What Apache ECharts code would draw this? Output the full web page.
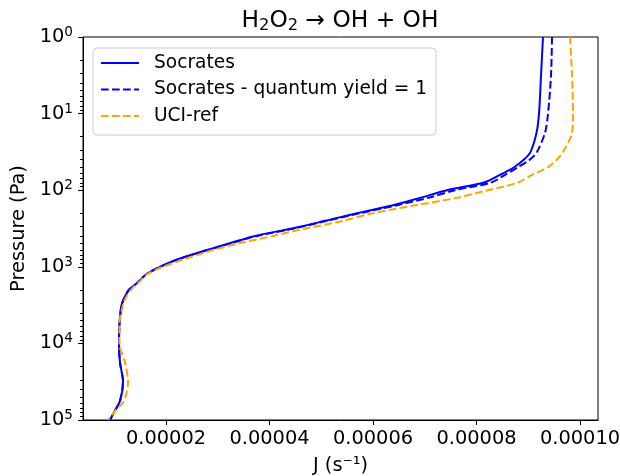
<!DOCTYPE html>
<html>
<head>
<meta charset="utf-8">
<script src="https://cdn.jsdelivr.net/npm/echarts@6/dist/echarts.min.js"></script>
<style>
  html, body { margin: 0; padding: 0; background: #fff; }
  #chart { width: 620px; height: 476px; }
</style>
</head>
<body>
<div id="chart"></div>
<script>
// pressure levels (Pa)
const pressure = [1, 3.162, 10, 17.78, 31.62, 39.81, 50.12, 63.10, 79.43, 100,
  125.9, 158.5, 199.5, 251.2, 316.2, 398.1, 501.2, 631.0, 794.3, 1000,
  1259, 1585, 1995, 2512, 3162, 5623, 10000, 17783, 31623, 56234, 79433, 100000];

// J (s^-1)
const socrates = [9.285e-5, 9.247e-5, 9.208e-5, 9.160e-5, 9.044e-5, 8.918e-5, 8.725e-5, 8.454e-5, 8.145e-5, 7.430e-5,
  6.908e-5, 6.367e-5, 5.691e-5, 5.073e-5, 4.435e-5, 3.700e-5, 3.198e-5, 2.696e-5, 2.232e-5, 1.884e-5,
  1.614e-5, 1.459e-5, 1.285e-5, 1.198e-5, 1.140e-5, 1.101e-5, 1.092e-5, 1.111e-5, 1.169e-5, 1.111e-5, 0.995e-5, 0.918e-5];
const socratesQy1 = [9.459e-5, 9.440e-5, 9.382e-5, 9.324e-5, 9.169e-5, 9.034e-5, 8.802e-5, 8.551e-5, 8.280e-5, 7.585e-5,
  7.063e-5, 6.444e-5, 5.749e-5, 5.111e-5, 4.473e-5, 3.739e-5, 3.217e-5, 2.715e-5, 2.242e-5, 1.884e-5,
  1.614e-5, 1.459e-5, 1.285e-5, 1.198e-5, 1.140e-5, 1.101e-5, 1.092e-5, 1.111e-5, 1.169e-5, 1.111e-5, 0.995e-5, 0.918e-5];
const uciRef = [9.807e-5, 9.846e-5, 9.865e-5, 9.846e-5, 9.672e-5, 9.556e-5, 9.382e-5, 9.073e-5, 8.802e-5, 8.222e-5,
  7.623e-5, 6.792e-5, 6.000e-5, 5.420e-5, 4.705e-5, 4.048e-5, 3.372e-5, 2.812e-5, 2.367e-5, 1.942e-5,
  1.633e-5, 1.478e-5, 1.324e-5, 1.227e-5, 1.169e-5, 1.101e-5, 1.101e-5, 1.208e-5, 1.266e-5, 1.188e-5, 0.995e-5, 0.879e-5];

const xTicks = [2e-5, 4e-5, 6e-5, 8e-5, 1e-4];
const yTicks = [1, 10, 100, 1000, 10000, 100000];
const yMinorTicks = [];
for (let e = 0; e < 5; e++) {
  for (let m = 2; m <= 9; m++) yMinorTicks.push(m * Math.pow(10, e));
}

function pairs(js) {
  return js.map((v, i) => [v, pressure[i]]);
}

const font = 'DejaVu Sans';
const fs = 19.4;
const dash = [7.7, 3.3];

let myChart = echarts.init(document.getElementById('chart'));
myChart.setOption({
  animation: false,
  textStyle: { fontFamily: font },
  graphic: [{
    type: 'text',
    x: 340,
    y: 21,
    style: {
      text: '{n|H}{s|2}{n|O}{s|2}{n| → OH + OH}',
      align: 'center',
      verticalAlign: 'middle',
      rich: {
        n: { fontSize: 23.3, fontFamily: font, fill: '#000' },
        s: { fontSize: 16.3, fontFamily: font, fill: '#000', padding: [10, 0, 0, 0] }
      }
    }
  }],
  grid: {
    left: 83, right: 22, top: 37, bottom: 56,
    outerBoundsMode: 'none',
    show: true, borderColor: '#000', borderWidth: 1
  },
  legend: {
    orient: 'vertical',
    left: 93, top: 48,
    padding: [5, 9, 9, 7],
    itemWidth: 38, itemHeight: 20, itemGap: 6.5,
    backgroundColor: 'rgba(255,255,255,0.8)',
    borderColor: '#cccccc', borderWidth: 1, borderRadius: 4,
    itemStyle: { opacity: 0 },
    textStyle: { fontSize: 18.6, fontFamily: font, color: '#000', lineHeight: 20, padding: [0, 0, 0, 10] },
    data: ['Socrates', 'Socrates - quantum yield = 1', 'UCI-ref']
  },
  xAxis: {
    type: 'value',
    min: 3.96e-6, max: 1.0348e-4,
    name: 'J (s⁻¹)',
    nameLocation: 'middle', nameGap: 36,
    nameTextStyle: { fontSize: fs, color: '#000', fontFamily: font },
    axisLine: { lineStyle: { color: '#000', width: 1 } },
    axisTick: { show: true, inside: false, length: 5, customValues: xTicks, lineStyle: { color: '#000' } },
    axisLabel: {
      customValues: xTicks, fontSize: fs, color: '#000', margin: 9, fontFamily: font,
      formatter: v => v.toFixed(5)
    },
    splitLine: { show: false }
  },
  yAxis: [{
    type: 'log', logBase: 10,
    min: 1, max: 100000, inverse: true,
    name: 'Pressure (Pa)',
    nameLocation: 'middle', nameGap: 51, nameRotate: 90,
    nameTextStyle: { fontSize: fs, color: '#000', fontFamily: font },
    axisLine: { lineStyle: { color: '#000', width: 1 } },
    axisTick: { show: true, inside: false, length: 5, customValues: yTicks, lineStyle: { color: '#000' } },
    axisLabel: {
      customValues: yTicks, margin: 10, color: '#000',
      formatter: v => '{b|10}{s|' + Math.round(Math.log10(v)) + '}',
      rich: {
        b: { fontSize: fs, fontFamily: font, color: '#000' },
        s: { fontSize: 13.6, fontFamily: font, color: '#000', padding: [0, 0, 9, 0] }
      }
    },
    splitLine: { show: false }
  }, {
    type: 'log', logBase: 10,
    min: 1, max: 100000, inverse: true,
    position: 'left',
    axisLine: { show: false },
    axisTick: { show: true, inside: false, length: 3, customValues: yMinorTicks, lineStyle: { color: '#000' } },
    axisLabel: { show: false },
    splitLine: { show: false }
  }],
  series: [
    {
      name: 'Socrates', type: 'line', symbol: 'none', smooth: 0.3,
      lineStyle: { color: '#0000ff', width: 2 }, itemStyle: { color: '#0000ff' },
      data: pairs(socrates)
    },
    {
      name: 'Socrates - quantum yield = 1', type: 'line', symbol: 'none', smooth: 0.3,
      lineStyle: { color: '#0000ff', width: 2, type: dash }, itemStyle: { color: '#0000ff' },
      data: pairs(socratesQy1)
    },
    {
      name: 'UCI-ref', type: 'line', symbol: 'none', smooth: 0.3,
      lineStyle: { color: '#ffa500', width: 2, type: dash }, itemStyle: { color: '#ffa500' },
      data: pairs(uciRef)
    }
  ]
});
window.addEventListener('resize', myChart.resize);
</script>
</body>
</html>
